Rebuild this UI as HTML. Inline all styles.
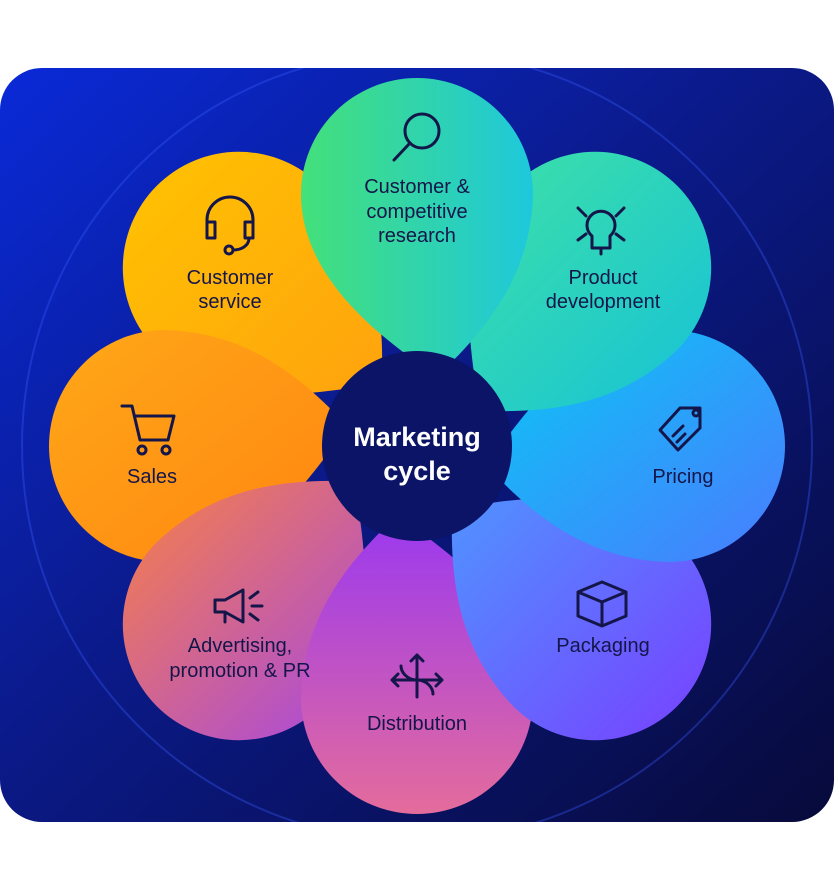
<!DOCTYPE html>
<html><head><meta charset="utf-8"><style>
html,body{margin:0;padding:0;background:#fff;}
svg{display:block;}
text{font-family:"Liberation Sans",sans-serif;}
</style></head><body>
<svg width="834" height="888" viewBox="0 0 834 888" xmlns="http://www.w3.org/2000/svg">
<defs>
<linearGradient id="bg" x1="0" y1="0" x2="1" y2="1">
<stop offset="0" stop-color="#0a2ad8"/><stop offset="0.45" stop-color="#0b1a8a"/><stop offset="1" stop-color="#070a3a"/>
</linearGradient>
<clipPath id="cl"><rect x="0" y="68" width="834" height="754" rx="42"/></clipPath>
<linearGradient id="g1" x1="0" y1="0" x2="1" y2="0"><stop offset="0" stop-color="#44e07a"/><stop offset="1" stop-color="#1ec8dc"/></linearGradient>
<linearGradient id="g2" x1="0" y1="0" x2="1" y2="1" gradientTransform="rotate(-45 .5 .5)"><stop offset="0" stop-color="#3ee0a8"/><stop offset="1" stop-color="#18c4d4"/></linearGradient>
<linearGradient id="g3" x1="0" y1="0" x2="1" y2="1" gradientTransform="rotate(-90 .5 .5)"><stop offset="0" stop-color="#08c8f4"/><stop offset="1" stop-color="#4a7cff"/></linearGradient>
<linearGradient id="g4" x1="0" y1="0" x2="1" y2="1" gradientTransform="rotate(-135 .5 .5)"><stop offset="0" stop-color="#4aa0ff"/><stop offset="1" stop-color="#7a3cff"/></linearGradient>
<linearGradient id="g5" x1="0" y1="0" x2="0" y2="1" gradientTransform="rotate(180 .5 .5)"><stop offset="0" stop-color="#9a38f0"/><stop offset="1" stop-color="#e46c9c"/></linearGradient>
<linearGradient id="g6" x1="0" y1="0" x2="1" y2="1" gradientTransform="rotate(135 .5 .5)"><stop offset="0" stop-color="#f47e4c"/><stop offset="1" stop-color="#a848e0"/></linearGradient>
<linearGradient id="g7" x1="0" y1="0" x2="1" y2="1" gradientTransform="rotate(90 .5 .5)"><stop offset="0" stop-color="#ffa818"/><stop offset="1" stop-color="#ff8410"/></linearGradient>
<linearGradient id="g8" x1="0" y1="0" x2="1" y2="1" gradientTransform="rotate(45 .5 .5)"><stop offset="0" stop-color="#ffc400"/><stop offset="1" stop-color="#ff9e10"/></linearGradient>
<path id="petal" d="M 20,-70 C -40,-110 -116,-170 -116,-252 A 116 116 0 1 1 116,-252 C 114,-180 80,-125 20,-70 Z"/>
</defs>
<rect x="0" y="68" width="834" height="754" rx="42" fill="url(#bg)"/>
<circle cx="417" cy="446" r="395" fill="none" stroke="#3a5cff" stroke-opacity="0.35" stroke-width="2" clip-path="url(#cl)"/>
<g transform="translate(417,446)">
<use href="#petal" fill="url(#g8)" transform="rotate(-45)"/>
<use href="#petal" fill="url(#g7)" transform="rotate(-90)"/>
<use href="#petal" fill="url(#g6)" transform="rotate(-135)"/>
<use href="#petal" fill="url(#g5)" transform="rotate(180)"/>
<use href="#petal" fill="url(#g4)" transform="rotate(135)"/>
<use href="#petal" fill="url(#g3)" transform="rotate(90)"/>
<use href="#petal" fill="url(#g2)" transform="rotate(45)"/>
<use href="#petal" fill="url(#g1)" transform="rotate(0)"/>
<circle r="95" fill="#0b1466"/>
</g>
<g fill="#fff" font-weight="bold" font-size="27" text-anchor="middle">
<text x="417" y="446">Marketing</text><text x="417" y="480">cycle</text>
</g>
<g fill="#14164a" font-size="20" text-anchor="middle">
<text x="417" y="193">Customer &amp;</text><text x="417" y="218">competitive</text><text x="417" y="242">research</text>
<text x="603" y="284">Product</text><text x="603" y="308">development</text>
<text x="683" y="483">Pricing</text>
<text x="603" y="652">Packaging</text>
<text x="417" y="730">Distribution</text>
<text x="240" y="652">Advertising,</text><text x="240" y="677">promotion &amp; PR</text>
<text x="152" y="483">Sales</text>
<text x="230" y="284">Customer</text><text x="230" y="308">service</text>
</g>
<g fill="none" stroke="#14164a" stroke-width="3" stroke-linecap="round" stroke-linejoin="round">
<circle cx="422" cy="131" r="17"/><line x1="410" y1="143" x2="394" y2="160"/>
<path d="M592 236 a14 14 0 1 1 18 0 v12 h-18 z M601 250v4 M578 208l8 8 M624 208l-8 8 M578 240l8-6 M624 240l-8-6"/>
<path d="M660 430 l20-22 h20 v20 l-22 22 z M673 436l10-10 M677 442l8-8"/><circle cx="696" cy="413" r="3"/>
<path d="M578 592 l24-10 24 10 v24 l-24 10 -24-10 z M578 592 l24 10 24-10 M602 602v24"/>
<path d="M417 655v42 M417 655l-6 6 M417 655l6 6 M392 680h50 M392 680l6-6 M392 680l6 6 M442 680l-6-6 M442 680l-6 6 M417 680c-10 0-16-8-16-14 M417 680c10 0 16 8 16 14"/>
<path d="M215 600h10l18-10v32l-18-10h-10z M225 612v10 M250 598l8-6 M252 606h10 M250 614l8 6"/>
<path d="M122 406h10l8 34h28l6-24h-38"/><circle cx="142" cy="450" r="4"/><circle cx="166" cy="450" r="4"/>
<path d="M207 230v-10a23 23 0 0 1 46 0v10 M207 222h8v16h-8z M245 222h8v16h-8z M249 238c0 8-8 12-16 12"/><circle cx="229" cy="250" r="4"/>
</g>
</svg>
</body></html>
